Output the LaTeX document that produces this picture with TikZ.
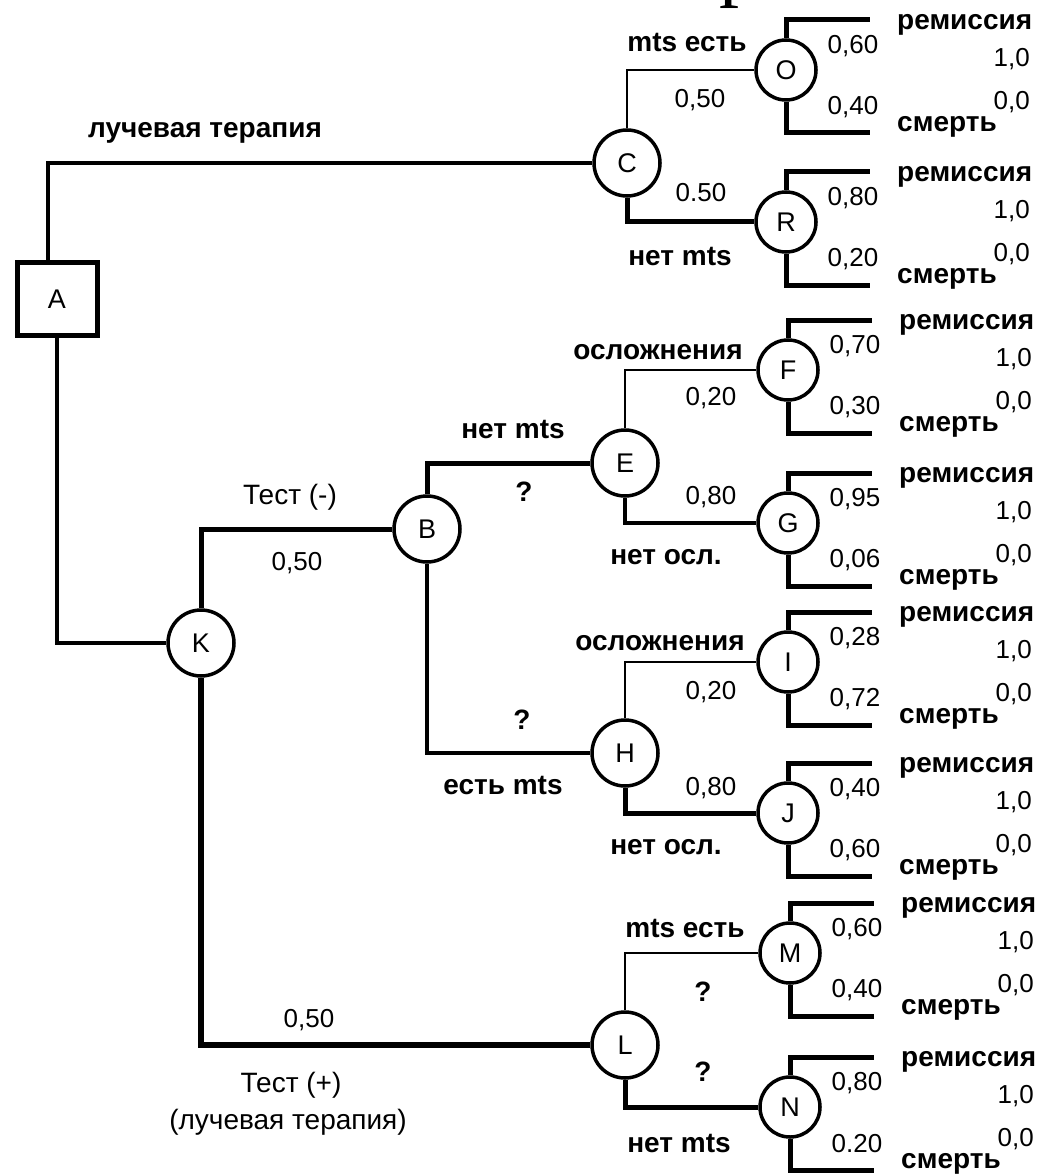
\documentclass[tikz,border=0pt]{standalone}
\usepackage{fontspec}
\setmainfont{Liberation Sans}
\newfontfamily\titlefont{Liberation Serif}
\begin{document}
\begin{tikzpicture}[x=1pt, y=-1pt, inner sep=1pt,
    chance/.style={circle, draw, line width=3.5pt, minimum size=66pt, font=\fontsize{27}{30}\selectfont},
    leafchance/.style={chance, minimum size=60pt},
    word/.style={font=\bfseries\fontsize{28}{30}\selectfont},
    txt/.style={font=\fontsize{28}{30}\selectfont},
    num/.style={font=\fontsize{26}{28}\selectfont},
    twig/.style={line width=2.5pt},
    limb/.style={line width=4pt},
    trunk/.style={line width=5pt},
    stub/.style={line width=5pt}]
   \useasboundingbox (0,0) rectangle (1039,1174);
   % cut-off title
   \node[font=\titlefont\fontsize{80}{80}\selectfont, anchor=base west, inner sep=0pt] (ttl) at (719,-8) {р};
   % decision and chance nodes
   \node[draw, line width=5pt, minimum width=80pt, minimum height=73pt, font=\fontsize{27}{30}\selectfont] (A) at (57,299) {A};
   \node[chance] (C) at (627,163) {C};
   \node[chance] (K) at (201,643) {K};
   \node[chance] (B) at (427,529) {B};
   \node[chance] (E) at (625,463) {E};
   \node[chance] (H) at (625,753) {H};
   \node[chance] (L) at (625,1045) {L};
   \node[leafchance] (O) at (786,70) {O};
   \node[leafchance] (R) at (786,222) {R};
   \node[leafchance] (F) at (788,370) {F};
   \node[leafchance] (G) at (788,523) {G};
   \node[leafchance] (I) at (788,662) {I};
   \node[leafchance] (J) at (788,813) {J};
   \node[leafchance] (M) at (790,953) {M};
   \node[leafchance] (N) at (790,1107) {N};
   % branches
   \draw[limb] ([xshift=-9pt]A.north) |- (C.west);
   \draw[line width=3.5pt] (A.south) |- (K.west);
   \draw[trunk] (K.north) |- (B.west);
   \draw[line width=5.5pt] (K.south) |- (L.west);
   \draw[twig] (C.north) |- (O.west);
   \draw[trunk] (C.south) |- (R.west);
   \draw[trunk] (B.north) |- (E.west);
   \draw[line width=4.5pt] (B.south) |- (H.west);
   \draw[twig] (E.north) |- (F.west);
   \draw[line width=3.5pt] (E.south) |- (G.west);
   \draw[twig] (H.north) |- (I.west);
   \draw[trunk] (H.south) |- (J.west);
   \draw[twig] (L.north) |- (M.west);
   \draw[trunk] (L.south) |- (N.west);
   % outcomes
   \foreach \n/\pu/\pd in {O/{0,60}/{0,40}, R/{0,80}/{0,20}, F/{0,70}/{0,30}, G/{0,95}/{0,06},
                          I/{0,28}/{0,72}, J/{0,40}/{0,60}, M/{0,60}/{0,40}, N/{0,80}/{0.20}} {
      \path (\n) ++(84,-50) coordinate (\n-up) ++(0,113) coordinate (\n-dn);
      \draw[stub] (\n.north) |- (\n-up);
      \draw[stub] (\n.south) |- (\n-dn);
      \path (\n) ++(67,-24) node[num] (\n-pu) {\pu};
      \path (\n) ++(67,37) node[num] (\n-pd) {\pd};
      \path (\n-up) ++(26,5) node[word, anchor=west] (\n-rem) {ремиссия};
      \path (\n-dn) ++(26,-6) node[word, anchor=west] (\n-die) {смерть};
      \path (\n) ++(245,-11) node[num, anchor=east] (\n-one) {1,0};
      \path (\n) ++(245,32) node[num, anchor=east] (\n-zero) {0,0};
   }
   % branch labels
   \node[word] (lt) at (205,133) {лучевая терапия};
   \node[word] (cO) at (687,43) {mts есть};
   \node[num] (pCO) at (700,100) {0,50};
   \node[num] (pCR) at (701,193) {0.50};
   \node[word] (cR) at (680,257) {нет mts};
   \node[txt] (tneg) at (290,497) {Тест (-)};
   \node[num] (pKB) at (297,563) {0,50};
   \node[word] (cE) at (513,430) {нет mts};
   \node[word] (qE) at (524,492) {?};
   \node[word] (cF) at (658,352) {осложнения};
   \node[num] (pEF) at (711,398) {0,20};
   \node[num] (pEG) at (711,497) {0,80};
   \node[word] (cG) at (666,557) {нет осл.};
   \node[word] (qH) at (522,720) {?};
   \node[word] (cH) at (503,785) {есть mts};
   \node[word] (cI) at (660,643) {осложнения};
   \node[num] (pHI) at (711,692) {0,20};
   \node[num] (pHJ) at (711,788) {0,80};
   \node[word] (cJ) at (666,847) {нет осл.};
   \node[num] (pKL) at (309,1020) {0,50};
   \node[txt] (tpos) at (291,1085) {Тест (+)};
   \node[txt] (tpos2) at (288,1122) {(лучевая терапия)};
   \node[word] (cM) at (685,928) {mts есть};
   \node[word] (qM) at (703,992) {?};
   \node[word] (qN) at (703,1072) {?};
   \node[word] (cN) at (679,1143) {нет mts};
\end{tikzpicture}
\end{document}
